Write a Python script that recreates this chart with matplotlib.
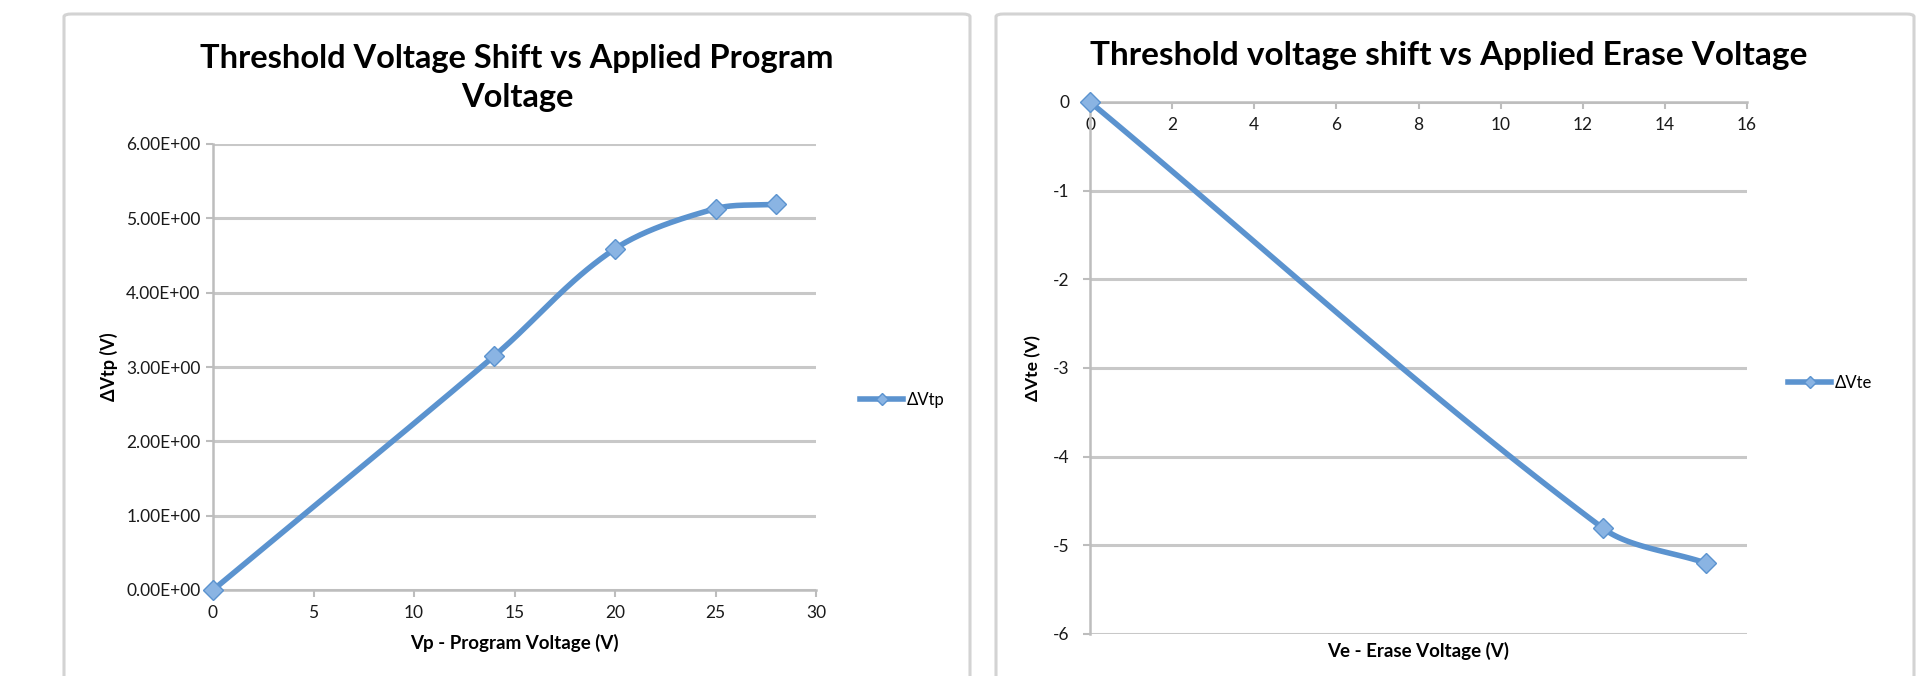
import numpy as np
import matplotlib
matplotlib.use('Agg')
import matplotlib.pyplot as plt
from matplotlib.patches import FancyBboxPatch
from matplotlib.lines import Line2D
from matplotlib.ticker import FormatStrFormatter, FuncFormatter

plt.rcParams['font.family'] = ['Lato', 'DejaVu Sans']

# program data
vp = [0, 14, 20, 25, 28]
dvtp = [0, 3.15, 4.59, 5.13, 5.19]
# erase data
ve = [0, 12.5, 15]
dvte = [0, -4.81, -5.2]

line_color = '#5B93CF'
marker_face = '#8AB4E3'
grid_color = '#C8C8C8'
tick_color = '#1a1a1a'


def smooth(xs, ys, xr, yr, n=40):
    # excel-like smoothed line, tangents scaled by segment length (no overshoot)
    p = np.column_stack([np.asarray(xs, float) / xr, np.asarray(ys, float) / yr])
    pts = np.vstack([p[0], p, p[-1]])
    out = []
    t = np.linspace(0, 1, n)[:, None]

    def unit(v):
        return v / np.linalg.norm(v)

    for i in range(1, len(pts) - 2):
        p0, p1, p2, p3 = pts[i - 1], pts[i], pts[i + 1], pts[i + 2]
        L = np.linalg.norm(p2 - p1)
        c1 = p1 + unit(p2 - p0) * L / 3
        c2 = p2 - unit(p3 - p1) * L / 3
        seg = ((1 - t) ** 3) * p1 + 3 * ((1 - t) ** 2) * t * c1 + 3 * (1 - t) * t ** 2 * c2 + t ** 3 * p2
        out.append(seg)
    c = np.vstack(out)
    return c[:, 0] * xr, c[:, 1] * yr


fig = plt.figure(figsize=(19.29, 6.76), dpi=100)
W, H = 1929, 676

# panel frames
for x0, x1 in [(64, 970), (996, 1914)]:
    fig.patches.append(FancyBboxPatch((x0 / W, 1 - 700 / H), (x1 - x0) / W, (700 - 14) / H,
                                      boxstyle='round,pad=0,rounding_size=0.004',
                                      transform=fig.transFigure, fc='none',
                                      ec='#D3D3D3', lw=2.2, zorder=-1))

# ---------- left chart ----------
ax1 = fig.add_axes([213 / W, 1 - 590 / H, (816 - 213) / W, (590 - 144) / H])
ax1.patch.set_alpha(0)
ax1.set_xlim(0, 30)
ax1.set_ylim(0, 6)
ax1.set_xticks([0, 5, 10, 15, 20, 25, 30])
ax1.set_yticks([0, 1, 2, 3, 4, 5, 6])
ax1.yaxis.set_major_formatter(FuncFormatter(lambda v, p: '%.2fE+00' % v))
ax1.grid(axis='y', color=grid_color, lw=2.2)
ax1.set_axisbelow(True)
for s in ['top', 'right']:
    ax1.spines[s].set_visible(False)
for s in ['left', 'bottom']:
    ax1.spines[s].set_color('#BDBDBD')
    ax1.spines[s].set_linewidth(1.8)
ax1.tick_params(axis='both', colors='#BDBDBD', labelcolor=tick_color, labelsize=12.5,
                length=5, width=1.5)
ax1.tick_params(axis='y', pad=4)
ax1.tick_params(axis='x', pad=6)
sx, sy = smooth(vp, dvtp, 30, 6 * 0.74)
ax1.plot(sx, sy, color=line_color, lw=4, solid_capstyle='round', clip_on=False, zorder=3)
ax1.plot(vp, dvtp, ls='none', marker='D', ms=10, mfc=marker_face, mec=line_color,
         mew=1, clip_on=False, zorder=4)
ax1.set_xlabel('Vp - Program Voltage (V)', fontsize=13.5, fontweight='bold', labelpad=9)
ax1.set_ylabel('ΔVtp (V)', fontsize=13, fontweight='bold', labelpad=6)
fig.text(517 / W, 1 - 78 / H, 'Threshold Voltage Shift vs Applied Program\nVoltage',
         ha='center', va='center', fontsize=23.5, fontweight='bold', linespacing=1.4)
h1 = Line2D([], [], color=line_color, lw=4, marker='D', ms=6, mfc=marker_face, mec=line_color)
fig.legend([h1], ['ΔVtp'], loc='center left', bbox_to_anchor=(860 / W, 1 - 400 / H),
           frameon=False, fontsize=12, handlelength=2.6, handletextpad=0.2,
           borderpad=0, borderaxespad=0)

# ---------- right chart ----------
ax2 = fig.add_axes([1090 / W, 1 - 634 / H, (1747 - 1090) / W, (634 - 102) / H])
ax2.patch.set_alpha(0)
ax2.set_xlim(0, 16)
ax2.set_ylim(-6, 0)
ax2.set_xticks(range(0, 17, 2))
ax2.set_yticks(range(-6, 1))
ax2.yaxis.set_major_formatter(FormatStrFormatter('%d'))
ax2.grid(axis='y', color=grid_color, lw=2.2)
ax2.set_axisbelow(True)
ax2.spines['top'].set_visible(False)
ax2.spines['right'].set_visible(False)
ax2.spines['bottom'].set_position(('data', 0))
for s in ['left', 'bottom']:
    ax2.spines[s].set_color('#BDBDBD')
    ax2.spines[s].set_linewidth(1.8)
ax2.tick_params(axis='both', colors='#BDBDBD', labelcolor=tick_color, labelsize=12.5,
                length=5, width=1.5)
ax2.tick_params(axis='x', pad=6)
ax2.tick_params(axis='y', pad=10)
sx, sy = smooth(ve, dvte, 16, 6 * 0.81)
ax2.plot(sx, sy, color=line_color, lw=4, solid_capstyle='round', clip_on=False, zorder=3)
ax2.plot(ve, dvte, ls='none', marker='D', ms=10, mfc=marker_face, mec=line_color,
         mew=1, clip_on=False, zorder=4)
ax2.set_xlabel('Ve - Erase Voltage (V)', fontsize=13.5, fontweight='bold')
ax2.xaxis.set_label_coords(0.5, -0.015)
ax2.set_ylabel('ΔVte (V)', fontsize=12.5, fontweight='bold', labelpad=8)
fig.text(1449 / W, 1 - 55 / H, 'Threshold voltage shift vs Applied Erase Voltage',
         ha='center', va='center', fontsize=24, fontweight='bold')
h2 = Line2D([], [], color=line_color, lw=4, marker='D', ms=6, mfc=marker_face, mec=line_color)
fig.legend([h2], ['ΔVte'], loc='center left', bbox_to_anchor=(1788 / W, 1 - 383 / H),
           frameon=False, fontsize=12, handlelength=2.6, handletextpad=0.2,
           borderpad=0, borderaxespad=0)

fig.savefig('out.png', dpi=100)
